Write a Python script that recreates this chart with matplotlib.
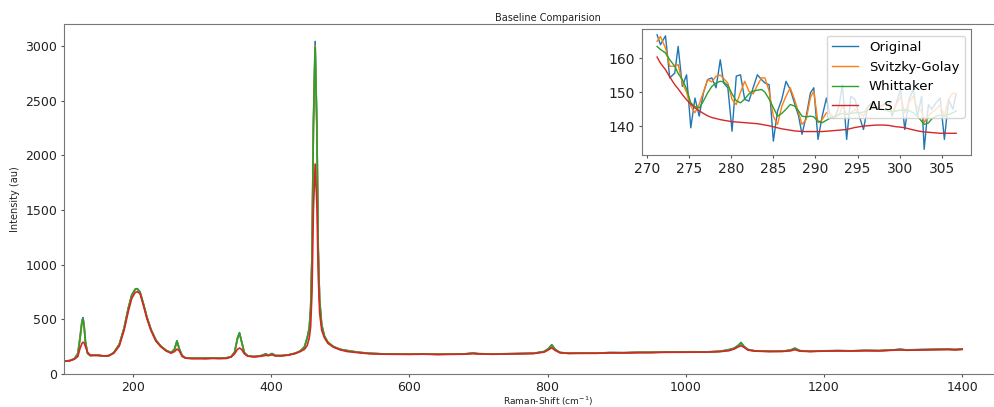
import numpy as np
import matplotlib
matplotlib.use("Agg")
import matplotlib.pyplot as plt

##### Spectrum values. #####

# Raman shift (cm^-1), shared by the four curves of the main plot.
shift = [100, 108, 115, 120, 123, 126, 127.5, 129, 131, 134, 138, 145, 150, 158, 165,
         172, 180, 187, 193, 198, 203, 206, 210, 215, 220, 226, 233, 240, 248, 255,
         260, 263.5, 267, 271, 276, 285, 295, 305, 315, 325, 335, 342, 347, 351, 354,
         357, 361, 366, 375, 385, 392, 396, 401, 406, 415, 425, 435, 442, 448, 452,
         455, 457, 459, 461, 463.5, 466, 468, 470, 473, 477, 482, 490, 500, 510, 525,
         540, 560, 580, 600, 620, 640, 660, 680, 692, 700, 720, 740, 760, 780, 795,
         801, 806, 811, 818, 830, 850, 870, 890, 910, 930, 950, 970, 990, 1010, 1030,
         1050, 1062, 1070, 1076, 1080, 1084, 1090, 1100, 1120, 1140, 1152, 1158, 1165, 1180, 1200,
         1220, 1240, 1260, 1280, 1300, 1310, 1320, 1340, 1360, 1380, 1390, 1400]

original = [118, 122, 140, 190, 330, 490, 515, 450, 300, 190, 168, 176, 170, 165, 168,
            195, 270, 420, 600, 720, 775, 780, 750, 640, 520, 405, 310, 255, 215, 195,
            230, 305, 230, 170, 148, 145, 143, 147, 146, 144, 148, 160, 200, 330, 378,
            300, 195, 165, 160, 168, 185, 172, 188, 170, 168, 175, 190, 210, 250, 330,
            420, 600, 1100, 2300, 3040, 2300, 1150, 680, 450, 345, 290, 250, 225, 215, 200,
            190, 184, 182, 182, 184, 180, 182, 184, 192, 186, 183, 185, 187, 190, 205,
            230, 268, 225, 197, 190, 192, 191, 196, 195, 199, 198, 201, 202, 203, 202,
            208, 222, 236, 262, 288, 255, 225, 212, 208, 209, 220, 237, 214, 208, 212,
            214, 212, 216, 214, 220, 227, 220, 224, 226, 228, 224, 229]

savgol = [118, 122, 140, 185, 320, 480, 505, 440, 290, 190, 168, 174, 170, 164, 168,
          195, 270, 420, 600, 720, 772, 778, 748, 640, 520, 405, 310, 255, 215, 195,
          225, 300, 225, 168, 146, 144, 144, 145, 146, 145, 147, 158, 200, 320, 372,
          295, 195, 165, 158, 165, 182, 170, 185, 168, 168, 175, 190, 210, 245, 325,
          415, 590, 1080, 2250, 3000, 2250, 1130, 670, 445, 345, 290, 250, 225, 213, 200,
          190, 184, 182, 181, 183, 180, 181, 183, 190, 185, 182, 184, 186, 189, 205,
          228, 262, 222, 196, 189, 191, 190, 195, 194, 197, 197, 200, 201, 202, 201,
          207, 220, 233, 258, 280, 250, 222, 211, 207, 208, 217, 232, 212, 207, 211,
          213, 211, 215, 213, 219, 224, 219, 222, 224, 226, 223, 227]

whittaker = [118, 122, 138, 180, 310, 470, 505, 440, 290, 190, 168, 172, 170, 164, 168,
             195, 270, 420, 600, 720, 775, 780, 750, 640, 520, 405, 310, 255, 215, 195,
             225, 300, 225, 165, 145, 143, 144, 144, 146, 145, 146, 158, 200, 320, 375,
             295, 195, 165, 158, 165, 182, 170, 185, 168, 168, 175, 190, 210, 245, 330,
             420, 600, 1090, 2250, 2986, 2250, 1130, 670, 450, 345, 290, 250, 225, 212, 198,
             190, 184, 182, 181, 183, 180, 181, 183, 190, 185, 182, 184, 186, 189, 205,
             230, 265, 222, 196, 189, 191, 190, 195, 194, 197, 197, 200, 201, 202, 201,
             207, 220, 234, 260, 285, 252, 222, 211, 207, 208, 217, 234, 212, 207, 211,
             213, 211, 215, 213, 219, 224, 219, 222, 224, 226, 223, 227]

als = [115, 120, 135, 160, 230, 280, 290, 285, 250, 200, 172, 168, 170, 165, 167,
       190, 255, 400, 570, 690, 745, 752, 735, 625, 505, 395, 300, 250, 210, 190,
       205, 228, 210, 160, 145, 140, 140, 138, 142, 140, 142, 155, 185, 225, 237,
       225, 185, 163, 157, 162, 170, 168, 175, 165, 166, 172, 188, 205, 225, 260,
       330, 430, 750, 1500, 1920, 1550, 900, 560, 400, 330, 280, 245, 220, 205, 195,
       186, 181, 180, 179, 181, 178, 179, 181, 186, 183, 180, 182, 184, 187, 200,
       220, 240, 215, 194, 188, 189, 189, 193, 193, 195, 196, 198, 199, 200, 200,
       205, 212, 228, 248, 258, 245, 218, 209, 205, 206, 212, 222, 209, 205, 209,
       211, 210, 213, 212, 217, 220, 217, 220, 222, 223, 221, 224]

# Zoomed window (inset), 271 - 307 cm^-1.
zoom_shift = [271.2, 271.6, 272.2, 272.7, 273.3, 273.7, 274.2, 274.7, 275.2, 275.7,
              276.2, 276.7, 277.2, 277.7, 278.2, 278.7, 279.1, 279.6, 280.1, 280.6,
              281.1, 281.6, 282.1, 282.6, 283.1, 283.6, 284.0, 284.5, 285.0, 285.5,
              286.0, 286.5, 287.0, 287.5, 288.0, 288.4, 288.9, 289.4, 289.8, 290.3,
              290.8, 291.3, 291.8, 292.3, 292.8, 293.2, 293.7, 294.2, 294.7, 295.2,
              295.7, 296.2, 296.7, 297.2, 297.7, 298.1, 298.7, 299.1, 299.6, 300.1,
              300.6, 301.1, 301.6, 302.1, 302.6, 302.9, 303.4, 303.8, 304.3, 304.8,
              305.3, 305.8, 306.3, 306.7]

zoom_original = [166.8, 163.9, 166.5, 154.2, 155.6, 163.4, 151.7, 155.1, 139.6, 148.3,
                 143.0, 149.8, 153.7, 154.2, 151.3, 159.5, 152.7, 151.3, 138.6, 154.7,
                 155.1, 147.9, 147.4, 151.3, 155.1, 153.7, 152.7, 152.2, 135.7, 144.5,
                 147.9, 153.2, 150.8, 146.9, 143.0, 137.7, 143.0, 149.8, 151.3, 136.2,
                 143.0, 148.3, 142.5, 142.5, 146.0, 152.2, 136.2, 148.8, 147.9, 143.0,
                 139.1, 145.9, 146.9, 145.0, 145.9, 146.4, 147.4, 143.0, 146.9, 150.8,
                 139.1, 147.9, 150.8, 143.0, 148.8, 133.3, 146.4, 145.0, 146.9, 148.3,
                 136.2, 147.9, 145.0, 149.5]

zoom_savgol = [164.9, 166.3, 162.9, 157.6, 157.6, 158.1, 152.7, 150.0, 145.9, 144.0,
               146.5, 150.0, 153.7, 153.0, 154.7, 155.0, 154.0, 152.7, 147.9, 146.4,
               150.0, 153.2, 150.3, 149.5, 152.0, 154.2, 154.2, 150.3, 143.0, 140.6,
               145.9, 148.8, 151.3, 148.0, 144.0, 140.6, 142.0, 148.5, 150.3, 141.1,
               142.0, 144.0, 143.5, 142.5, 143.5, 146.0, 143.5, 144.0, 145.0, 144.0,
               143.0, 145.9, 146.0, 145.4, 145.9, 146.4, 146.0, 144.0, 146.5, 148.5,
               144.0, 147.0, 148.8, 145.4, 144.5, 141.1, 143.0, 144.0, 145.0, 146.4,
               143.0, 148.0, 149.8, 149.5]

zoom_whittaker = [163.4, 162.5, 161.5, 159.5, 157.6, 155.5, 153.7, 151.0, 146.9, 145.8,
                  145.4, 147.4, 149.8, 151.7, 152.7, 153.2, 153.0, 152.0, 149.5, 147.5,
                  146.9, 148.0, 149.5, 150.3, 150.6, 150.8, 150.0, 148.0, 145.5, 143.0,
                  143.8, 145.0, 146.4, 146.0, 144.5, 143.0, 142.8, 143.0, 142.8, 141.5,
                  141.1, 141.8, 142.5, 143.0, 143.5, 143.8, 143.5, 143.8, 144.0, 144.0,
                  144.2, 144.8, 145.2, 145.4, 145.2, 144.8, 144.5, 144.3, 144.5, 144.8,
                  144.8, 144.6, 144.0, 143.0, 141.5, 140.6, 141.0, 142.2, 143.0, 143.3,
                  143.0, 143.5, 144.0, 144.5]

zoom_als = [160.3, 158.5, 156.6, 154.5, 152.2, 151.0, 149.3, 147.8, 146.5, 145.4,
            144.6, 143.8, 143.1, 142.6, 142.3, 142.0, 141.8, 141.6, 141.4, 141.3,
            141.2, 141.1, 141.0, 140.9, 140.8, 140.6, 140.4, 140.2, 139.9, 139.6,
            139.3, 139.1, 138.9, 138.7, 138.6, 138.5, 138.5, 138.5, 138.5, 138.5,
            138.5, 138.6, 138.7, 138.8, 138.9, 139.0, 139.1, 139.4, 139.7, 139.9,
            140.1, 140.2, 140.3, 140.4, 140.4, 140.4, 140.3, 140.1, 139.9, 139.8,
            139.6, 139.3, 139.0, 138.7, 138.5, 138.4, 138.3, 138.2, 138.1, 138.0,
            138.0, 138.0, 138.0, 138.0]

labels = ['Original', 'Svitzky-Golay', 'Whittaker', 'ALS']
colors = ['tab:blue', 'tab:orange', 'tab:green', 'tab:red']



##### Main plot. #####

fig = plt.figure(figsize=(9.94, 4.07), dpi=100)
# Bottom raised a few pixels so the x label fits inside the picture.
ax = fig.add_axes([0.0644, 0.0811, 0.973, 0.860])

for y, c in zip([original, savgol, whittaker, als], colors):
    ax.plot(shift, y, color=c, lw=1.2)

ax.set_xlim(100, 1500)
ax.set_ylim(0, 3200)
ax.set_xticks(np.arange(200, 1401, 200))
ax.set_yticks(np.arange(0, 3001, 500))
ax.tick_params(labelsize=9, length=2.5, pad=2.5, colors='#555555', labelcolor='#222222')
for s in ax.spines.values():
    s.set_color('#777777')
ax.set_title('Baseline Comparision', fontsize=7, pad=2.5, color='#222222')
ax.set_xlabel('Raman-Shift (cm$^{-1}$)', fontsize=6.5, labelpad=0.5, color='#222222')
ax.set_ylabel('Intensity (au)', fontsize=7, color='#222222')



##### Inset. #####

axin = fig.add_axes([0.646, 0.619, 0.331, 0.3096])
for y, c, lab in zip([zoom_original, zoom_savgol, zoom_whittaker, zoom_als], colors, labels):
    axin.plot(zoom_shift, y, color=c, lw=1.0, label=lab)

axin.set_xticks(np.arange(270, 306, 5))
axin.set_yticks([140, 150, 160])
axin.tick_params(labelsize=10, length=2.5, pad=2.5, colors='#555555', labelcolor='#222222')
for s in axin.spines.values():
    s.set_color('#777777')
axin.legend(loc='upper right', fontsize=9.5)

fig.savefig('out.png', dpi=100)
